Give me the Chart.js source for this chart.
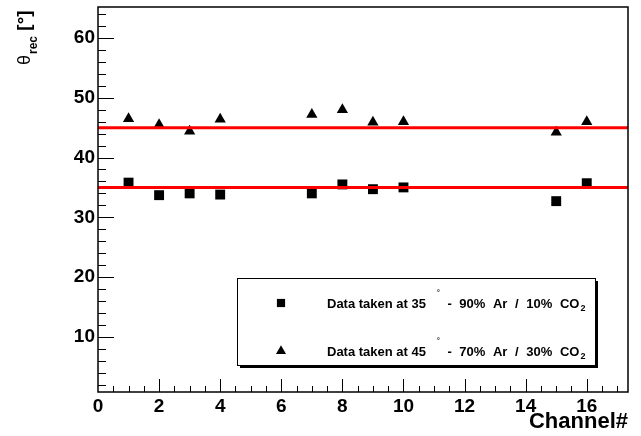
<!DOCTYPE html>
<html><head><meta charset="utf-8">
<script src="https://cdn.jsdelivr.net/npm/chart.js@4/dist/chart.umd.min.js"></script>
<style>html,body{margin:0;padding:0;background:#fff;}#wrap{width:641px;height:436px;}</style>
</head><body><div id="wrap"><canvas id="c" width="641" height="436"></canvas></div>
<script>
// ---- data ----
const channels = [1, 2, 3, 4, 7, 8, 9, 10, 15, 16];
const theta35 = [35.8, 33.7, 34.0, 33.8, 34.0, 35.5, 34.7, 35.0, 32.7, 35.7];
const theta45 = [46.5, 45.5, 44.4, 46.4, 47.2, 48.0, 45.9, 46.0, 44.25, 46.0];
const fitLevels = [35, 45];
const xTicks = [0, 2, 4, 6, 8, 10, 12, 14, 16];
const yTicks = [10, 20, 30, 40, 50, 60];
const xRange = [0, 17.35];
const yRange = [0.75, 65.2];
const legendLabels = ['Data taken at 35^{°} - 90% Ar / 10% CO_{2}', 'Data taken at 45^{°} - 70% Ar / 30% CO_{2}'];
const xTitle = 'Channel#';
const yTitleMain = 'θ', yTitleSub = 'rec', yTitleUnit = ' [°]';

const FONT = "'Liberation Sans', Arial, Helvetica, sans-serif";

function drawRich(ctx, str, x, y, size) {
  const parts = str.split(/(\^\{[^}]*\}|_\{[^}]*\})/).filter(s => s.length);
  let cx = x;
  let afterSup = false;
  ctx.textAlign = 'left';
  ctx.textBaseline = 'alphabetic';
  for (const p of parts) {
    if (p.startsWith('^{')) {
      const t = p.slice(2, -1);
      ctx.font = `bold ${Math.round(size * 0.55)}px ${FONT}`;
      cx += 11;
      ctx.fillText(t, cx, y - size * 0.95);
      cx += ctx.measureText(t).width;
      afterSup = true;
    } else if (p.startsWith('_{')) {
      const t = p.slice(2, -1);
      ctx.font = `bold ${Math.round(size * 0.7)}px ${FONT}`;
      ctx.fillText(t, cx + 1, y + size * 0.28);
      cx += ctx.measureText(t).width + 1;
    } else {
      ctx.font = `bold ${size}px ${FONT}`;
      if (afterSup) {
        const sp = ctx.measureText(' ').width + 4;
        const words = p.split(' ');
        words.forEach((wd, k) => {
          if (k > 0) cx += sp;
          if (wd.length) { ctx.fillText(wd, cx, y); cx += ctx.measureText(wd).width; }
        });
      } else {
        ctx.fillText(p, cx, y);
        cx += ctx.measureText(p).width;
      }
    }
  }
}

const rootFrame = {
  id: 'rootFrame',
  afterDatasetsDraw(chart) {
    const ctx = chart.ctx;
    const a = chart.chartArea;
    const xs = chart.scales.x, ys = chart.scales.y;
    ctx.save();
    ctx.strokeStyle = '#000';
    ctx.lineWidth = 1.5;
    ctx.strokeRect(a.left, a.top, a.right - a.left, a.bottom - a.top);
    ctx.lineWidth = 1;
    ctx.beginPath();
    // y ticks (inward)
    for (let v = 2; v <= yRange[1]; v += 2) {
      const py = Math.round(ys.getPixelForValue(v)) + 0.5;
      const len = yTicks.includes(v) ? 16 : 8;
      ctx.moveTo(a.left, py); ctx.lineTo(a.left + len, py);
    }
    // x ticks (inward)
    for (let v = 0.5; v <= xRange[1]; v += 0.5) {
      const px = Math.round(xs.getPixelForValue(v)) + 0.5;
      const len = xTicks.includes(v) ? 13 : 6;
      ctx.moveTo(px, a.bottom); ctx.lineTo(px, a.bottom - len);
    }
    ctx.stroke();

    // y title
    ctx.save();
    ctx.translate(30, 65);
    ctx.rotate(-Math.PI / 2);
    ctx.fillStyle = '#000';
    ctx.textAlign = 'left'; ctx.textBaseline = 'alphabetic';
    ctx.font = `18px ${FONT}`;
    ctx.fillText(yTitleMain, 0, 0);
    let w = ctx.measureText(yTitleMain).width;
    ctx.font = `bold 12px ${FONT}`;
    ctx.fillText(yTitleSub, w + 1, 7);
    w += 1 + ctx.measureText(yTitleSub).width;
    ctx.font = `bold 19px ${FONT}`;
    ctx.fillText(yTitleUnit, w, 0);
    ctx.restore();

    // legend box
    const bx = 237, by = 278, bw = 358, bh = 87;
    ctx.fillStyle = '#000';
    ctx.fillRect(bx + 3, by + 3, bw, bh);
    ctx.fillStyle = '#fff';
    ctx.fillRect(bx, by, bw, bh);
    ctx.strokeStyle = '#000';
    ctx.lineWidth = 1;
    ctx.strokeRect(bx + 0.5, by + 0.5, bw, bh);
    const styles = [chart.data.datasets[2], chart.data.datasets[3]];
    const rows = [303, 351];
    styles.forEach((ds, i) => {
      ctx.fillStyle = '#000';
      Chart.helpers.drawPoint(ctx, {pointStyle: ds.pointStyle, radius: 5.8, rotation: 0, borderWidth: 0}, 281, rows[i]);
      ctx.fillStyle = '#000';
      drawRich(ctx, legendLabels[i], 327, rows[i] + 4.5, 13);
    });
    ctx.restore();
  }
};

const ctx = document.getElementById('c').getContext('2d');
new Chart(ctx, {
  type: 'scatter',
  data: {
    datasets: [
      { label: 'fit35', data: xRange.map(x => ({x, y: fitLevels[0]})), showLine: true, borderColor: '#ff0000', borderWidth: 3, pointRadius: 0, order: 0 },
      { label: 'fit45', data: xRange.map(x => ({x, y: fitLevels[1]})), showLine: true, borderColor: '#ff0000', borderWidth: 3, pointRadius: 0, order: 0 },
      { label: '35', data: channels.map((c, i) => ({x: c, y: theta35[i]})), pointStyle: 'rect', pointRadius: 7, backgroundColor: '#000', borderColor: '#000', borderWidth: 0, order: 2 },
      { label: '45', data: channels.map((c, i) => ({x: c, y: theta45[i]})), pointStyle: 'triangle', pointRadius: 6.5, backgroundColor: '#000', borderColor: '#000', borderWidth: 0, order: 2 }
    ]
  },
  options: {
    responsive: false,
    animation: false,
    devicePixelRatio: 1,
    layout: { padding: { top: 6, right: 13, left: 0, bottom: 0 } },
    plugins: { legend: { display: false }, tooltip: { enabled: false } },
    scales: {
      x: {
        type: 'linear', min: xRange[0], max: xRange[1],
        grid: { display: false, drawTicks: false }, border: { display: false },
        ticks: { stepSize: 2, color: '#000', padding: 3, maxRotation: 0, autoSkip: false, font: { family: FONT, size: 19, weight: 'bold' } },
        afterBuildTicks: s => { s.ticks = xTicks.map(v => ({value: v})); },
        afterFit: s => { s.height = 44; s.paddingLeft = 0; s.paddingRight = 0; },
        title: { display: true, text: xTitle, align: 'end', color: '#000', padding: { top: 0, bottom: 1 }, font: { family: FONT, size: 22, weight: 'bold' } }
      },
      y: {
        type: 'linear', min: yRange[0], max: yRange[1],
        grid: { display: false, drawTicks: false }, border: { display: false },
        ticks: { stepSize: 10, color: '#000', padding: 3, autoSkip: false, font: { family: FONT, size: 19, weight: 'bold' } },
        afterBuildTicks: s => { s.ticks = yTicks.map(v => ({value: v})); },
        afterFit: s => { s.width = 98; s.paddingTop = 0; s.paddingBottom = 0; }
      }
    }
  },
  plugins: [rootFrame]
});
</script>
</body></html>
